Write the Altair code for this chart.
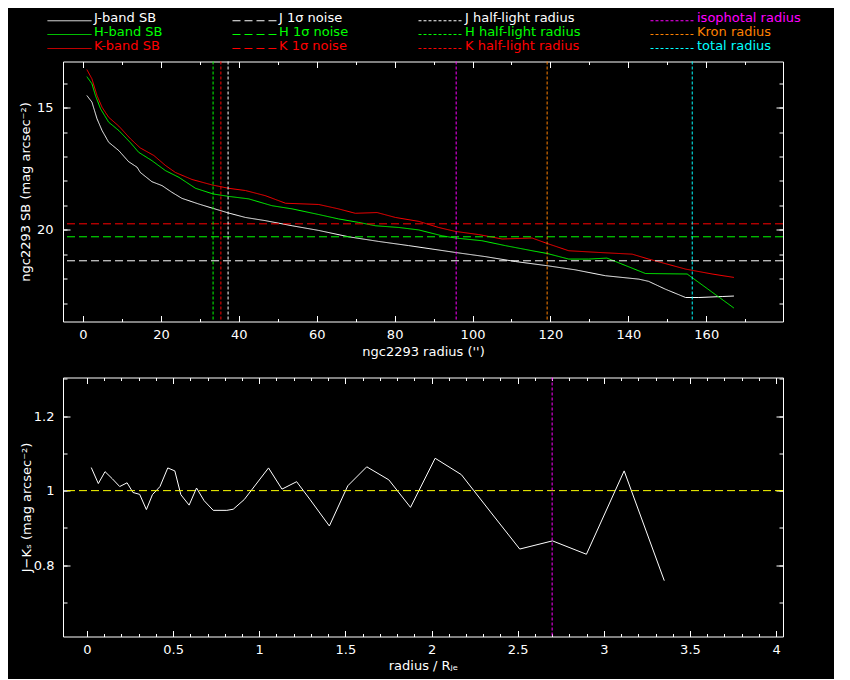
import altair as alt
import pandas as pd

FONT = "DejaVu Sans"

# ---------------- top panel: surface brightness profiles ----------------
j_r = [1.0, 2.3, 3.6, 4.9, 6.6, 9.2, 11.7, 13.9, 14.7, 17.7, 20.3, 22.8, 25.4, 29.7, 33.4, 37.4,
       41.7, 46.8, 53.7, 60.5, 68.2, 75.9, 83.6, 89.6, 95.6, 103.3, 111.0, 119.1, 126.4, 134.1,
       142.7, 145.2, 149.5, 154.7, 158.1, 164.1, 167.1]
j_sb = [14.51, 14.78, 15.46, 15.94, 16.42, 16.76, 17.21, 17.44, 17.65, 18.03, 18.19, 18.46, 18.71,
        18.94, 19.12, 19.31, 19.49, 19.62, 19.83, 20.02, 20.28, 20.47, 20.64, 20.78, 20.92, 21.09,
        21.29, 21.46, 21.63, 21.87, 22.01, 22.10, 22.42, 22.76, 22.76, 22.72, 22.70]

h_r = [1.0, 2.3, 3.2, 4.5, 6.6, 9.2, 12.2, 14.3, 17.7, 21.2, 24.6, 28.9, 33.4, 37.4, 42.5, 48.5,
       53.7, 60.5, 65.6, 70.7, 75.1, 81.1, 86.2, 92.2, 95.6, 102.4, 108.4, 115.3, 119.1, 124.7,
       129.8, 134.5, 144.4, 155.1, 167.1]
h_sb = [13.74, 14.03, 14.51, 15.05, 15.60, 15.94, 16.44, 16.83, 17.17, 17.58, 17.85, 18.30, 18.53,
        18.63, 18.73, 19.01, 19.14, 19.37, 19.55, 19.69, 19.83, 19.90, 20.00, 20.24, 20.33, 20.44,
        20.64, 20.85, 20.96, 21.19, 21.19, 21.15, 21.78, 21.80, 23.19]

k_r = [1.0, 2.3, 3.6, 4.9, 6.6, 9.2, 12.2, 14.7, 18.2, 21.2, 23.7, 28.0, 33.1, 37.4, 41.7, 46.8,
       52.0, 60.5, 65.6, 69.9, 75.5, 80.2, 86.2, 91.3, 95.6, 101.6, 107.6, 115.3, 119.1, 124.7,
       132.4, 141.0, 145.2, 154.7, 161.5, 167.1]
k_sb = [13.45, 13.83, 14.51, 14.99, 15.40, 15.76, 16.28, 16.65, 16.96, 17.37, 17.65, 17.94, 18.16,
        18.30, 18.39, 18.60, 18.91, 18.96, 19.14, 19.32, 19.29, 19.49, 19.65, 19.90, 20.06, 20.19,
        20.37, 20.33, 20.55, 20.85, 20.92, 20.99, 21.19, 21.60, 21.80, 21.94]

noise_sb = [21.26, 20.28, 19.75]          # J, H, K 1-sigma noise
half_light_r = [37.25, 33.4, 35.4]        # J, H, K half-light radius
aperture_r = [95.8, 119.15, 156.4]        # isophotal, Kron, total radius

# ---------------- bottom panel: J-Ks colour profile ----------------
col_r = [0.025, 0.066, 0.105, 0.147, 0.19, 0.233, 0.267, 0.306, 0.345, 0.38, 0.424, 0.469, 0.51,
         0.545, 0.593, 0.636, 0.68, 0.733, 0.812, 0.849, 0.913, 1.054, 1.132, 1.217, 1.295, 1.407,
         1.514, 1.624, 1.752, 1.878, 2.021, 2.173, 2.347, 2.512, 2.702, 2.899, 3.118, 3.351]
col_jk = [1.062, 1.019, 1.051, 1.032, 1.011, 1.021, 0.995, 0.99, 0.949, 0.989, 1.011, 1.061, 1.053,
          0.989, 0.961, 1.007, 0.973, 0.947, 0.947, 0.95, 0.976, 1.061, 1.004, 1.024, 0.976, 0.905,
          1.013, 1.064, 1.029, 0.955, 1.087, 1.043, 0.94, 0.843, 0.865, 0.829, 1.053, 0.758]
col_ref = [1.0]
iso_r_norm = [2.70]

# ---------------- legend entries (column by column, 3 rows x 4 columns) ----------------
labels = ["J-band SB", "H-band SB", "K-band SB",
          "J 1σ noise", "H 1σ noise", "K 1σ noise",
          "J half-light radius", "H half-light radius", "K half-light radius",
          "isophotal radius", "Kron radius", "total radius"]
colors = ["#ffffff", "#00ff00", "#ff0000",
          "#ffffff", "#00ff00", "#ff0000",
          "#ffffff", "#00ff00", "#ff0000",
          "#ff00ff", "#ff8000", "#00ffff"]
SOLID, DASH, DOT = [1, 0], [8, 4], [3, 2]
dashes = [SOLID, SOLID, SOLID, DASH, DASH, DASH, DOT, DOT, DOT, DOT, DOT, DOT]

# ticks
top_x_major = [0, 20, 40, 60, 80, 100, 120, 140, 160]
top_x_minor = [0, 10, 20, 30, 40, 50, 60, 70, 80, 90, 100, 110, 120, 130, 140, 150, 160, 170]
top_y_major = [15, 20]
top_y_minor = [14, 15, 16, 17, 18, 19, 20, 21, 22, 23]
bot_x_major = [0, 0.5, 1, 1.5, 2, 2.5, 3, 3.5, 4]
bot_x_minor = [round(i * 0.1, 1) for i in range(41)]
bot_y_major = [0.8, 1.0, 1.2]
bot_y_minor = [0.7, 0.8, 0.9, 1.0, 1.1, 1.2, 1.3]

# ---------------- tables ----------------
curves = pd.concat([
    pd.DataFrame({"label": "J-band SB", "r": j_r, "sb": j_sb}),
    pd.DataFrame({"label": "H-band SB", "r": h_r, "sb": h_sb}),
    pd.DataFrame({"label": "K-band SB", "r": k_r, "sb": k_sb}),
], ignore_index=True)
noise_df = pd.DataFrame({"label": ["J 1σ noise", "H 1σ noise", "K 1σ noise"], "sb": noise_sb})
half_df = pd.DataFrame({"label": ["J half-light radius", "H half-light radius", "K half-light radius"],
                        "r": half_light_r})
ap_df = pd.DataFrame({"label": ["isophotal radius", "Kron radius", "total radius"], "r": aperture_r})
col_df = pd.DataFrame({"r": col_r, "jk": col_jk})
ref_df = pd.DataFrame({"v": col_ref})
iso_df = pd.DataFrame({"r": iso_r_norm})

W, H1, H2 = 720, 260, 259


def axis(orient, values, size, labels=False, title=None, label_pad=7, title_pad=4, fmt=None):
    d = dict(orient=orient, values=values, tickSize=size, offset=-size, domain=False, grid=False,
             ticks=True, tickColor="white", tickWidth=1, labels=labels)
    if labels:
        d.update(labelColor="white", labelFont=FONT, labelFontSize=13, labelPadding=label_pad,
                 labelFlush=False, labelOverlap=False, labelBound=False)
        if fmt:
            d["format"] = fmt
    if title:
        d.update(title=title, titleColor="white", titleFont=FONT, titleFontSize=13,
                 titleFontWeight="normal", titlePadding=title_pad)
    else:
        d["title"] = None
    return alt.Axis(**d)


xs_top = alt.Scale(domain=[-5.13, 179.7], nice=False, zero=False)
ys_top = alt.Scale(domain=[13.12, 23.74], reverse=True, nice=False, zero=False)
cscale = alt.Scale(domain=labels, range=colors)
dscale = alt.Scale(domain=labels, range=dashes)


def per_label(values, default):
    return " : ".join(f"datum.label == '{l}' ? {v}" for l, v in zip(labels, values)) + f" : {default}"


color_expr = per_label([f"'{c}'" for c in colors], "'white'")
dash_expr = per_label([str(d) for d in dashes], "[1,0]")

legend = alt.Legend(title=None, orient="none", legendX=-22, legendY=-50.5, columns=4,
                    symbolType="M0,3H44", symbolSize=4, symbolStrokeWidth=1, labelOffset=40,
                    columnPadding=63, rowPadding=0, padding=0, labelFont=FONT, labelFontSize=13,
                    labelColor={"expr": color_expr}, symbolStrokeColor={"expr": color_expr},
                    symbolDash={"expr": dash_expr}, labelLimit=0)

col_enc = alt.Color("label:N", scale=cscale, legend=legend)
dash_enc = alt.StrokeDash("label:N", scale=dscale, legend=None)

top_lines = alt.Chart(curves).mark_line(strokeWidth=1).encode(
    x=alt.X("r:Q", scale=xs_top,
            axis=axis("bottom", top_x_major, 6, labels=True, title="ngc2293 radius ('')", title_pad=4)),
    y=alt.Y("sb:Q", scale=ys_top,
            axis=axis("left", top_y_major, 7, labels=True, title="ngc2293 SB (mag arcsec⁻²)",
                      label_pad=10, title_pad=4)),
    color=col_enc, strokeDash=dash_enc, detail="label:N",
)


def ghost(data, xf, yf, xs, ys, xax, yax):
    return alt.Chart(data).mark_line(opacity=0).encode(
        x=alt.X(xf, scale=xs, axis=xax), y=alt.Y(yf, scale=ys, axis=yax))


top_g1 = ghost(curves, "r:Q", "sb:Q", xs_top, ys_top,
               axis("bottom", top_x_minor, 3), axis("left", top_y_minor, 4))
top_g2 = ghost(curves, "r:Q", "sb:Q", xs_top, ys_top,
               axis("top", top_x_major, 6), axis("right", top_y_major, 7))
top_g3 = ghost(curves, "r:Q", "sb:Q", xs_top, ys_top,
               axis("top", top_x_minor, 3), axis("right", top_y_minor, 4))

noise_rules = alt.Chart(noise_df).mark_rule(strokeWidth=1).encode(
    y=alt.Y("sb:Q", scale=ys_top, axis=None), color=col_enc, strokeDash=dash_enc)
half_rules = alt.Chart(half_df).mark_rule(strokeWidth=1).encode(
    x=alt.X("r:Q", scale=xs_top, axis=None), color=col_enc, strokeDash=dash_enc)
ap_rules = alt.Chart(ap_df).mark_rule(strokeWidth=1).encode(
    x=alt.X("r:Q", scale=xs_top, axis=None), color=col_enc, strokeDash=dash_enc)

top = alt.layer(top_lines, top_g1, top_g2, top_g3, noise_rules, half_rules, ap_rules).properties(
    width=W, height=H1).resolve_axis(x="independent", y="independent")

xs_bot = alt.Scale(domain=[-0.139, 4.04], nice=False, zero=False)
ys_bot = alt.Scale(domain=[0.608, 1.304], nice=False, zero=False)

bot_line = alt.Chart(col_df).mark_line(color="white", strokeWidth=1).encode(
    x=alt.X("r:Q", scale=xs_bot,
            axis=axis("bottom", bot_x_major, 6, labels=True, title="radius / Rⱼₑ", title_pad=3, fmt="~g")),
    y=alt.Y("jk:Q", scale=ys_bot,
            axis=axis("left", bot_y_major, 7, labels=True, title="J−Kₛ (mag arcsec⁻²)",
                      label_pad=9, title_pad=0, fmt="~g")),
)
bot_g1 = ghost(col_df, "r:Q", "jk:Q", xs_bot, ys_bot,
               axis("bottom", bot_x_minor, 3), axis("left", bot_y_minor, 4))
bot_g2 = ghost(col_df, "r:Q", "jk:Q", xs_bot, ys_bot,
               axis("top", bot_x_major, 6), axis("right", bot_y_major, 7))
bot_g3 = ghost(col_df, "r:Q", "jk:Q", xs_bot, ys_bot,
               axis("top", bot_x_minor, 3), axis("right", bot_y_minor, 4))
ref_rule = alt.Chart(ref_df).mark_rule(color="#ffff00", strokeDash=DASH, strokeWidth=1).encode(
    y=alt.Y("v:Q", scale=ys_bot, axis=None))
iso_rule = alt.Chart(iso_df).mark_rule(color="#ff00ff", strokeDash=DOT, strokeWidth=1).encode(
    x=alt.X("r:Q", scale=xs_bot, axis=None))

bottom = alt.layer(bot_line, bot_g1, bot_g2, bot_g3, ref_rule, iso_rule).properties(
    width=W, height=H2).resolve_axis(x="independent", y="independent")

chart = alt.vconcat(top, bottom, spacing=56, bounds="flush").configure(
    background="black", padding={"left": 10, "top": 2.5, "right": 33, "bottom": 5}
).configure_view(stroke="white", strokeWidth=1)

chart.save("out.html", embed_options={"renderer": "svg", "actions": False})
